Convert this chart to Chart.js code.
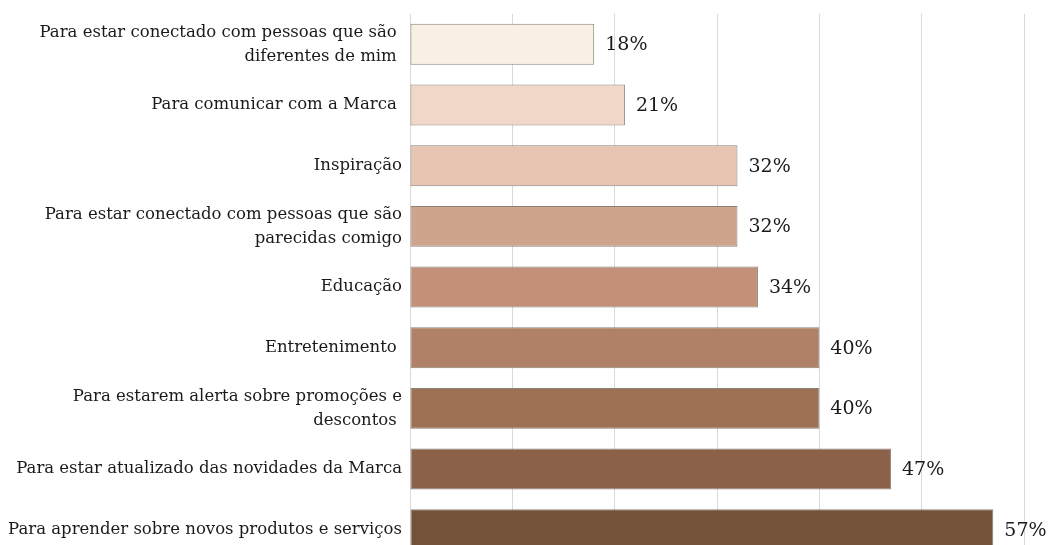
<!DOCTYPE html>
<html>
<head>
<meta charset="utf-8">
<script src="https://cdn.jsdelivr.net/npm/chart.js@4/dist/chart.umd.min.js"></script>
<style>
    html, body { margin: 0; padding: 0; background: #fff; overflow: hidden; }
    canvas { display: block; }
</style>
</head>
<body>
<canvas id="chart" width="1049" height="584"></canvas>
<script>
(function() {

    // Categories (top to bottom)
    var categories = [
        ["Para estar conectado com pessoas que são ", "diferentes de mim "],
        "Para comunicar com a Marca ",
        "Inspiração",
        ["Para estar conectado com pessoas que são", "parecidas comigo"],
        "Educação",
        "Entretenimento ",
        ["Para estarem alerta sobre promoções e", "descontos "],
        "Para estar atualizado das novidades da Marca",
        "Para aprender sobre novos produtos e serviços"
    ];

    // Percent values
    var values = [18, 21, 32, 32, 34, 40, 40, 47, 57];

    var barColors = [
        "#F8EFE5", "#F1D7C8", "#E7C5B2", "#CEA48C", "#C3907A",
        "#B08166", "#9E7155", "#8C614A", "#745139"
    ];

    var serif = "'DejaVu Serif', 'Liberation Serif', serif";

    // Draws the "NN%" next to each bar
    var valueLabels = {
        id: "valueLabels",
        afterDatasetsDraw: function(chart) {
            var ctx = chart.ctx;
            var meta = chart.getDatasetMeta(0);
            ctx.save();
            ctx.font = "19px " + serif;
            ctx.fillStyle = "#1a1a1a";
            ctx.textAlign = "left";
            ctx.textBaseline = "middle";
            meta.data.forEach(function(bar, i) {
                ctx.fillText(values[i] + "%", bar.x + 11, bar.y + 1);
            });
            ctx.restore();
        }
    };

    new Chart(document.getElementById("chart"), {
        type: "bar",
        data: {
            labels: categories,
            datasets: [{
                data: values,
                backgroundColor: barColors,
                borderColor: "#8a8279",
                borderWidth: 1,
                borderSkipped: false,
                categoryPercentage: 1,
                barPercentage: 0.675
            }]
        },
        options: {
            indexAxis: "y",
            responsive: false,
            animation: false,
            layout: { padding: { top: 14, right: 25, bottom: 0, left: 0 } },
            plugins: {
                legend: { display: false },
                tooltip: { enabled: false }
            },
            scales: {
                x: {
                    min: 0,
                    max: 60,
                    ticks: { display: false, stepSize: 10 },
                    grid: { color: "#d9d9d9", lineWidth: 1, drawTicks: false },
                    border: { display: false }
                },
                y: {
                    afterFit: function(scale) { scale.width = 410; },
                    ticks: {
                        color: "#1a1a1a",
                        padding: 0,
                        font: { family: serif, size: 16.5, lineHeight: 1.45 }
                    },
                    grid: { display: false },
                    border: { display: false }
                }
            }
        },
        plugins: [valueLabels]
    });

})();
</script>
</body>
</html>
